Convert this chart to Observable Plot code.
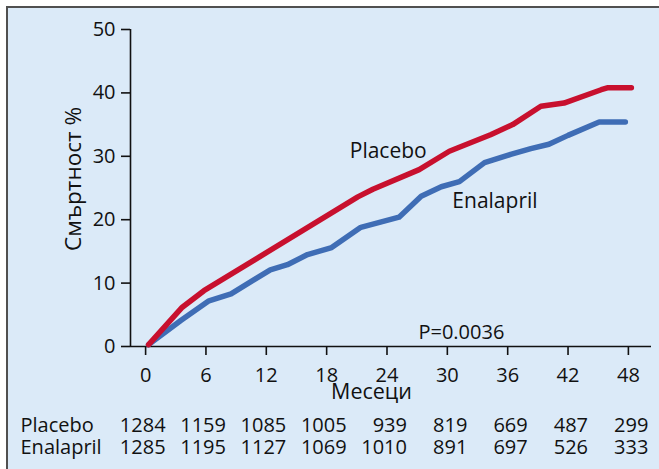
<!DOCTYPE html>
<html><head><meta charset="utf-8">
<script src="https://cdn.jsdelivr.net/npm/d3@7"></script>
<script src="https://cdn.jsdelivr.net/npm/@observablehq/plot@0.6"></script>
<style>
html,body{margin:0;padding:0;background:#fff;}
#wrap{position:relative;width:659px;height:469px;overflow:hidden;}
#panel{position:absolute;left:6px;top:6px;right:0;bottom:0;background:#dbeaf8;border-top:2px solid #505050;border-left:2px solid #505050;}
#chart{position:absolute;left:0;top:0;}
</style></head><body>
<div id="wrap"><div id="panel"></div><div id="chart"></div></div>
<script>
const placeboMonths = [0, 3.35, 5.5, 20.8, 22.3, 26.9, 29.9, 30.7, 34.0, 36.2, 39.0, 41.3, 45.0, 45.6, 48];
const placeboPct    = [0.3, 6.2, 8.8, 23.6, 24.8, 27.9, 30.8, 31.3, 33.4, 35.0, 37.9, 38.4, 40.5, 40.8, 40.8];
const enalaprilMonths = [0, 3.2, 6.0, 8.2, 12.1, 13.8, 15.8, 18.2, 21.1, 24.9, 27.1, 29.1, 30.9, 33.4, 36.0, 38.0, 39.8, 41.7, 44.8, 47.4];
const enalaprilPct    = [0.3, 4.1, 7.2, 8.3, 12.1, 12.9, 14.5, 15.6, 18.8, 20.4, 23.7, 25.2, 26.0, 29.0, 30.3, 31.2, 31.9, 33.3, 35.4, 35.4];
const tickMonths = [0, 6, 12, 18, 24, 30, 36, 42, 48];
const yTicks = [0, 10, 20, 30, 40, 50];
const placeboAtRisk   = [1284, 1159, 1085, 1005, 939, 819, 669, 487, 299];
const enalaprilAtRisk = [1285, 1195, 1127, 1069, 1010, 891, 697, 526, 333];
const rowNames = ["Placebo", "Enalapril"];
const seriesLabels = ["Placebo", "Enalapril"];
const seriesLabelMonths = [20.0, 30.2];
const seriesLabelPct = [30.8, 22.85];
const pLabel = ["P=0.0036"];
const pLabelMonth = [31.1];
const pLabelPct = [2.25];
const yTitle = "Смъртност %";
const xTitle = "Месеци";
const xDomain = [-1.8, 50];
const yDomain = [0, 50];

const RED = "#c8102e", BLUE = "#3f6db5", INK = "#111";
const placebo = placeboMonths.map((m, i) => ({m, p: placeboPct[i]}));
const enalapril = enalaprilMonths.map((m, i) => ({m, p: enalaprilPct[i]}));
const font = "'Open Sans', sans-serif";

const chart = Plot.plot({
  width: 659, height: 469,
  marginLeft: 130, marginRight: 8, marginTop: 29, marginBottom: 123,
  style: {background: "transparent", fontFamily: font, fontSize: "20px", color: INK},
  x: {domain: xDomain},
  y: {domain: yDomain},
  marks: [
    Plot.axisY({ticks: yTicks, tickSize: 9, tickPadding: 6, label: null, strokeWidth: 1.6, fontSize: 20, stroke: INK, fill: INK}),
    Plot.axisX({ticks: tickMonths, tickSize: 9, tickPadding: 12, label: null, strokeWidth: 1.6, fontSize: 20, dx: -3, stroke: INK, fill: INK}),
    Plot.ruleX([xDomain[0]], {stroke: INK, strokeWidth: 1.6}),
    Plot.ruleY([yDomain[0]], {stroke: INK, strokeWidth: 1.6}),
    Plot.line(enalapril, {x: "m", y: "p", stroke: BLUE, strokeWidth: 5.5, strokeLinejoin: "round"}),
    Plot.line(placebo, {x: "m", y: "p", stroke: RED, strokeWidth: 5.5, strokeLinejoin: "round"}),
    Plot.text(seriesLabels, {x: (d, i) => seriesLabelMonths[i], y: (d, i) => seriesLabelPct[i], text: d => d, textAnchor: "start", fontSize: 21, fill: INK}),
    Plot.text(pLabel, {x: (d, i) => pLabelMonth[i], y: (d, i) => pLabelPct[i], text: d => d, fontSize: 20, fill: INK}),
    Plot.text([xTitle], {frameAnchor: "bottom", text: d => d, textAnchor: "middle", dx: -19.5, dy: 52.5, fontSize: 21.5, fill: INK}),
    Plot.text([yTitle], {frameAnchor: "left", text: d => d, textAnchor: "middle", rotate: -90, dx: -56.5, dy: -9, fontSize: 22.5, fill: INK}),
    Plot.text(tickMonths, {x: d => d, text: (d, i) => String(placeboAtRisk[i]), frameAnchor: "bottom", textAnchor: "end", dx: 17, dy: 85, fontSize: 20, fill: INK}),
    Plot.text(tickMonths, {x: d => d, text: (d, i) => String(enalaprilAtRisk[i]), frameAnchor: "bottom", textAnchor: "end", dx: 17, dy: 107, fontSize: 20, fill: INK}),
    Plot.text([rowNames[0]], {frameAnchor: "bottom-left", text: d => d, textAnchor: "start", dx: -110, dy: 85, fontSize: 20, fill: INK}),
    Plot.text([rowNames[1]], {frameAnchor: "bottom-left", text: d => d, textAnchor: "start", dx: -110, dy: 107, fontSize: 20, fill: INK})
  ]
});
document.getElementById("chart").appendChild(chart);
</script>
</body></html>
